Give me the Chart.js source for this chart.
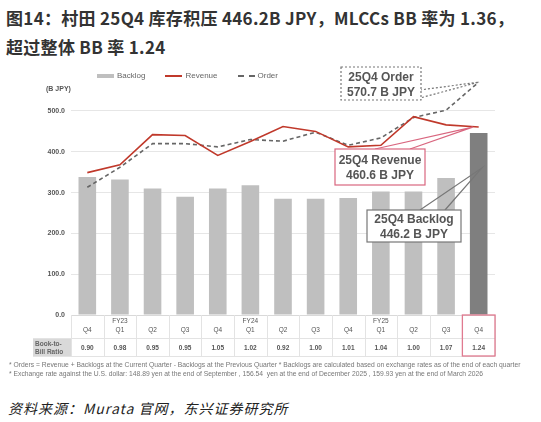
<!DOCTYPE html>
<html><head><meta charset="utf-8">
<script src="https://cdn.jsdelivr.net/npm/chart.js@4"></script>
<style>
body{margin:0;width:541px;height:422px;background:#fff;position:relative;overflow:hidden;font-family:"Noto Sans CJK SC",sans-serif}
#title{position:absolute;left:6px;top:3px;font-size:17px;font-weight:bold;color:#333;line-height:29px;letter-spacing:0.3px}
#wrap{position:absolute;left:0;top:60px;width:541px;height:310px}
#legend{position:absolute;top:71px;left:97px;font:8px Arial,"Liberation Sans";color:#666;display:flex;gap:20px;align-items:center}
#legend span{display:inline-flex;align-items:center;gap:3px}
#unit{position:absolute;top:85px;left:46px;font:bold 7px Arial,"Liberation Sans";color:#555}
.fn{position:absolute;left:9px;font:6.75px Arial,"Liberation Sans";color:#777;white-space:nowrap;line-height:8px}
#src{position:absolute;left:8px;top:398px;font-size:14px;font-style:italic;color:#222;font-family:"Noto Sans CJK SC";letter-spacing:1px}
</style></head><body>
<div id="title">图14：村田 25Q4 库存积压 446.2B JPY，MLCCs BB 率为 1.36，<br>超过整体 BB 率 1.24</div>
<div id="wrap"><canvas id="c"></canvas></div>
<div id="legend"><span><i style="display:inline-block;width:17px;height:4px;background:#bfbfbf"></i>Backlog</span><span><i style="display:inline-block;width:17px;height:2px;background:#c0392b"></i>Revenue</span><span><i style="display:inline-block;width:17px;border-top:2px dashed #666"></i>Order</span></div>
<div id="unit">(B JPY)</div>
<div class="fn" style="top:361px">* Orders = Revenue + Backlogs at the Current Quarter - Backlogs at the Previous Quarter * Backlogs are calculated based on exchange rates as of the end of each quarter</div>
<div class="fn" style="top:370px">* Exchange rate against the U.S. dollar: 148.89 yen at the end of September , 156.54&nbsp; yen at the end of December 2025 , 159.93 yen at the end of March 2026</div>
<div id="src">资料来源：Murata 官网，东兴证券研究所</div>
<script>
const quarters=["Q4","Q1","Q2","Q3","Q4","Q1","Q2","Q3","Q4","Q1","Q2","Q3","Q4"];
const fyLabels=["","FY23","","","","FY24","","","","FY25","","",""];
const backlog=[338,332,310,290,310,318,285,285,287,303,303,336,446.2];
const revenue=[349,368,442,440,391,425,462,450,412,416,486,466,460.6];
const order=[313,362,420,420,412,430,426,448,416,434,484,502,570.7];
const bbRatio=["0.90","0.98","0.95","0.95","1.05","1.02","0.92","1.00","1.01","1.04","1.00","1.07","1.24"];
const yTicks=[0,100,200,300,400,500];

const overlay={id:'overlay',afterDraw(ch){
 const c=ch.ctx,x=ch.scales.x,y=ch.scales.y,a=ch.chartArea;
 const top=a.bottom, mid=a.bottom+23, bot=a.bottom+41;
 const step=x.getPixelForValue(1)-x.getPixelForValue(0);
 c.save();
 c.fillStyle='#d9d9d9';c.fillRect(33,mid,a.left-33,bot-mid);
 c.strokeStyle='#e3e3e3';c.lineWidth=1;
 c.beginPath();c.moveTo(33,mid+.5);c.lineTo(a.right,mid+.5);c.moveTo(33,bot+.5);c.lineTo(a.right,bot+.5);
 for(let i=0;i<=13;i++){const px=Math.round(x.getPixelForValue(i)-step/2)+.5;c.moveTo(px,top);c.lineTo(px,bot);}
 c.stroke();
 c.fillStyle='#555';c.textAlign='center';c.font='6.5px Arial';
 quarters.forEach((q,i)=>{const px=x.getPixelForValue(i);
  if(fyLabels[i]){c.fillText(fyLabels[i],px,top+8);} c.fillText(q,px,top+17);
  c.font='bold 6.5px Arial';c.fillText(bbRatio[i],px,mid+12);c.font='6.5px Arial';});
 c.textAlign='left';c.font='bold 6.5px Arial';c.fillStyle='#666';
 c.fillText('Book-to-',35,mid+8);c.fillText('Bill Ratio',35,mid+16);
 const lx=x.getPixelForValue(12)-step/2;
 c.strokeStyle='#e07a90';c.lineWidth=1.3;c.strokeRect(lx,top,step,bot-top);
 function callout(bx,by,bw,bh,base1,base2,tip,col,dash,l1,l2){
  c.setLineDash(dash);c.strokeStyle=col;c.lineWidth=1.2;c.fillStyle='#fff';
  c.beginPath();c.moveTo(base1[0],base1[1]);c.lineTo(tip[0],tip[1]);c.lineTo(base2[0],base2[1]);c.stroke();
  c.fillRect(bx,by,bw,bh);c.strokeRect(bx,by,bw,bh);c.setLineDash([]);
  c.fillStyle='#555';c.font='bold 12px Arial';c.textAlign='center';
  c.fillText(l1,bx+bw/2,by+bh/2-3);c.fillText(l2,bx+bw/2,by+bh/2+12);
 }
 const ox=x.getPixelForValue(12),oy=y.getPixelForValue(order[12]);
 callout(341,7,80,33,[420,30],[420,38],[ox,oy],'#777',[2,2],'25Q4 Order','570.7 B JPY');
 const ry=y.getPixelForValue(revenue[12]);
 callout(335,89,90,36,[375,89],[410,89],[ox-6,ry],'#d9667f',[],'25Q4 Revenue','460.6 B JPY');
 const by2=y.getPixelForValue(360);
 callout(367,150,94,32,[420,150],[445,150],[ox+3,by2],'#777',[],'25Q4 Backlog','446.2 B JPY');
 c.restore();
}};

new Chart(document.getElementById('c'),{
 data:{labels:quarters,datasets:[
  {type:'line',data:revenue,borderColor:'#c0392b',borderWidth:1.6,pointRadius:0,order:1},
  {type:'line',data:order,borderColor:'#666',borderWidth:1.6,borderDash:[4,3],pointRadius:0,order:2},
  {type:'bar',data:backlog,backgroundColor:backlog.map((v,i)=>i===12?'#7f7f7f':'#bfbfbf'),categoryPercentage:0.54,barPercentage:1,order:3}
 ]},
 options:{responsive:true,maintainAspectRatio:false,animation:false,
  layout:{padding:{top:2,bottom:47,right:46,left:0}},
  plugins:{legend:{display:false},tooltip:{enabled:false}},
  scales:{
   x:{ticks:{display:false},grid:{display:false},border:{color:'#d9d9d9'}},
   y:{min:0,max:600,afterFit(s){s.width=71;},afterBuildTicks(s){s.ticks=yTicks.map(v=>({value:v}));},
      ticks:{color:'#555',font:{size:7,weight:'bold',family:'Arial'},callback:v=>v.toFixed(1),padding:6},
      grid:{color:'#e6e6e6',drawTicks:false},border:{display:false}}
  }},
 plugins:[overlay]
});
</script></body></html>
